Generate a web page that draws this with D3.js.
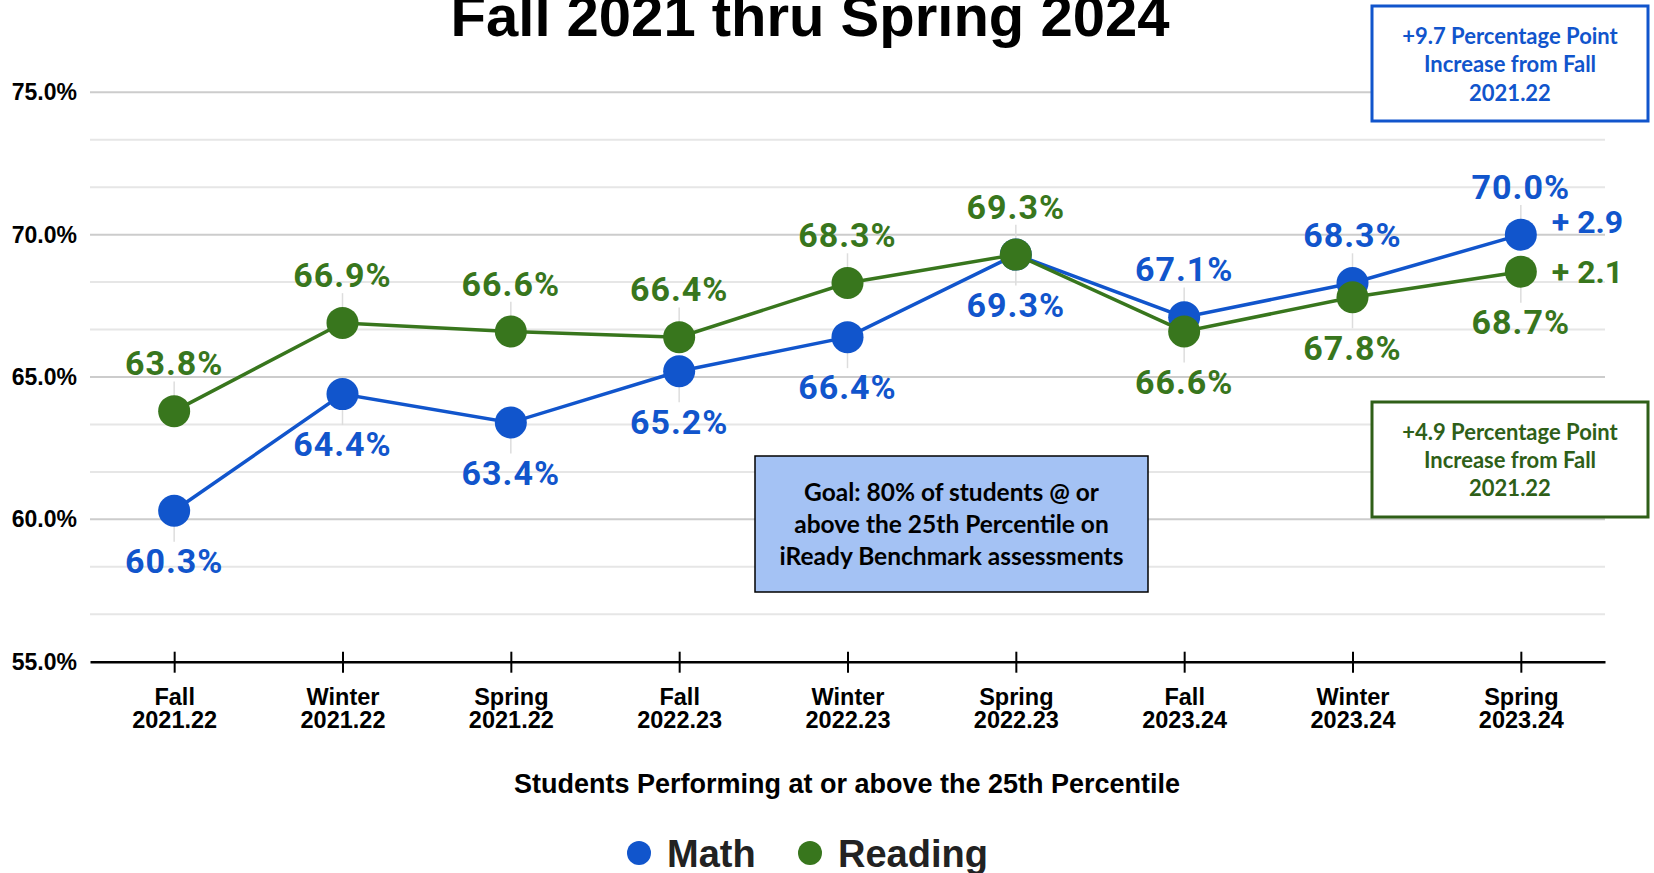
<!DOCTYPE html>
<html>
<head>
<meta charset="utf-8">
<script src="https://cdn.jsdelivr.net/npm/d3@7"></script>
<style>
  body { margin: 0; background: #fff; }
  svg { display: block; }
</style>
</head>
<body>
<div id="chart"></div>
<script>
// Data
const categories = [
  "Fall 2021.22", "Winter 2021.22", "Spring 2021.22",
  "Fall 2022.23", "Winter 2022.23", "Spring 2022.23",
  "Fall 2023.24", "Winter 2023.24", "Spring 2023.24"
];
const mathValues = [60.3, 64.4, 63.4, 65.2, 66.4, 69.3, 67.1, 68.3, 70.0];
const readingValues = [63.8, 66.9, 66.6, 66.4, 68.3, 69.3, 66.6, 67.8, 68.7];
const yTicks = [55, 60, 65, 70, 75];
const mathLabelSide = ["below", "below", "below", "below", "below", "below", "above", "above", "above"];
const readingLabelSide = ["above", "above", "above", "above", "above", "above", "below", "below", "below"];
const gainLabels = ["+ 2.9", "+ 2.1"];
const mathNote = ["+9.7 Percentage Point", "Increase from Fall", "2021.22"];
const readingNote = ["+4.9 Percentage Point", "Increase from Fall", "2021.22"];
const goalNote = ["Goal: 80% of students @ or", "above the 25th Percentile on", "iReady Benchmark assessments"];

// Constants
const WIDTH = 1654;
const HEIGHT = 873;
const MATH_COLOR = "#1155cc";
const READING_COLOR = "#38761d";
const BOLD_SANS = "'Liberation Sans', Arial, sans-serif";
const LABEL_FONT = "Roboto, 'Liberation Sans', sans-serif";
const NOTE_FONT = "Lato, 'Open Sans', sans-serif";

const svg = d3.select("#chart")
  .append("svg")
  .attr("width", WIDTH)
  .attr("height", HEIGHT);

const x = d3.scalePoint().domain(categories).range([90, 1605]).padding(0.5);
const y = d3.scaleLinear().domain([55, 75]).range([661.7, 92.3]);

// Title (first line is cut off at the top)
svg.append("text")
  .attr("x", 810)
  .attr("y", 36)
  .attr("text-anchor", "middle")
  .attr("font-family", BOLD_SANS)
  .attr("font-weight", "bold")
  .attr("font-size", 58)
  .text("Fall 2021 thru Spring 2024");

// Gridlines (major every 5, minor every 5/3)
const gridValues = d3.range(1, 13).map(i => 55 + i * 5 / 3);
svg.append("g")
  .selectAll("line")
  .data(gridValues)
  .enter()
  .append("line")
  .attr("x1", 90)
  .attr("x2", 1605)
  .attr("y1", d => y(d))
  .attr("y2", d => y(d))
  .attr("stroke", d => yTicks.some(t => Math.abs(t - d) < 0.01) ? "#cccccc" : "#e6e6e6")
  .attr("stroke-width", 2);

// Y axis labels
const yAxis = svg.append("g")
  .attr("transform", "translate(90,0)")
  .call(d3.axisLeft(y).tickValues(yTicks).tickSize(0).tickPadding(13).tickFormat(d => d.toFixed(1) + "%"));
yAxis.select(".domain").remove();
yAxis.selectAll("text")
  .attr("font-family", BOLD_SANS)
  .attr("font-weight", "bold")
  .attr("font-size", 23)
  .attr("fill", "#000");

// X axis
const xAxis = svg.append("g")
  .attr("transform", "translate(0," + y(55) + ")")
  .call(d3.axisBottom(x).tickSizeOuter(0).tickSize(0));
xAxis.select(".domain").attr("stroke", "#000").attr("stroke-width", 2.5);
xAxis.selectAll(".tick line")
  .attr("y1", -10)
  .attr("y2", 11)
  .attr("stroke", "#000")
  .attr("stroke-width", 2);
xAxis.selectAll(".tick text").remove();
xAxis.selectAll(".tick")
  .append("text")
  .attr("text-anchor", "middle")
  .attr("font-family", BOLD_SANS)
  .attr("font-weight", "bold")
  .attr("font-size", 23.5)
  .attr("fill", "#000")
  .each(function(d) {
    const parts = d.split(" ");
    const t = d3.select(this);
    t.append("tspan").attr("x", 0).attr("y", 43).text(parts[0]);
    t.append("tspan").attr("x", 0).attr("y", 66).text(parts[1]);
  });

// X axis title
svg.append("text")
  .attr("x", 847)
  .attr("y", 793)
  .attr("text-anchor", "middle")
  .attr("font-family", BOLD_SANS)
  .attr("font-weight", "bold")
  .attr("font-size", 27)
  .attr("fill", "#000")
  .text("Students Performing at or above the 25th Percentile");

// Series
const series = [
  { name: "Math", values: mathValues, sides: mathLabelSide, color: MATH_COLOR, gain: gainLabels[0], gainDy: -13 },
  { name: "Reading", values: readingValues, sides: readingLabelSide, color: READING_COLOR, gain: gainLabels[1], gainDy: 0 }
];

const line = d3.line()
  .x((d, i) => x(categories[i]))
  .y(d => y(d));

function labelOffset(side) {
  return side === "above" ? -48 : 50;
}

// Leader lines
series.forEach(s => {
  svg.append("g")
    .selectAll("line")
    .data(s.values)
    .enter()
    .append("line")
    .attr("x1", (d, i) => x(categories[i]))
    .attr("x2", (d, i) => x(categories[i]))
    .attr("y1", d => y(d))
    .attr("y2", (d, i) => y(d) + labelOffset(s.sides[i]) * 0.62)
    .attr("stroke", "#dddddd")
    .attr("stroke-width", 1.5);
});

series.forEach(s => {
  const g = svg.append("g");
  g.append("path")
    .datum(s.values)
    .attr("d", line)
    .attr("fill", "none")
    .attr("stroke", s.color)
    .attr("stroke-width", 3.5);

  g.selectAll("circle")
    .data(s.values)
    .enter()
    .append("circle")
    .attr("cx", (d, i) => x(categories[i]))
    .attr("cy", d => y(d))
    .attr("r", 16)
    .attr("fill", s.color);
});

// Data labels
series.forEach(s => {
  svg.append("g")
    .selectAll("text")
    .data(s.values)
    .enter()
    .append("text")
    .attr("x", (d, i) => x(categories[i]))
    .attr("y", (d, i) => y(d) + labelOffset(s.sides[i]))
    .attr("dy", "0.36em")
    .attr("text-anchor", "middle")
    .attr("font-family", LABEL_FONT)
    .attr("font-weight", "bold")
    .attr("font-size", 34)
    .attr("letter-spacing", 1)
    .attr("fill", s.color)
    .text(d => d.toFixed(1) + "%");

  const last = s.values.length - 1;
  svg.append("text")
    .attr("x", x(categories[last]) + 31)
    .attr("y", y(s.values[last]) + s.gainDy)
    .attr("dy", "0.36em")
    .attr("font-family", LABEL_FONT)
    .attr("font-weight", "bold")
    .attr("font-size", 32)
    .attr("fill", s.color)
    .text(s.gain);
});

// Note boxes
function noteBox(lines, box, opts) {
  const g = svg.append("g");
  g.append("rect")
    .attr("x", box.x)
    .attr("y", box.y)
    .attr("width", box.w)
    .attr("height", box.h)
    .attr("fill", opts.fill)
    .attr("stroke", opts.stroke)
    .attr("stroke-width", opts.strokeWidth);
  g.selectAll("text")
    .data(lines)
    .enter()
    .append("text")
    .attr("x", box.x + box.w / 2)
    .attr("y", (d, i) => box.firstLine + i * box.lineHeight)
    .attr("dy", "0.36em")
    .attr("text-anchor", "middle")
    .attr("font-family", NOTE_FONT)
    .attr("font-weight", "bold")
    .attr("font-size", opts.fontSize)
    .attr("fill", opts.color)
    .text(d => d);
}

noteBox(mathNote, { x: 1372, y: 6, w: 276, h: 115, firstLine: 36, lineHeight: 28.5 },
  { fill: "#fff", stroke: MATH_COLOR, strokeWidth: 3, color: MATH_COLOR, fontSize: 22 });
noteBox(readingNote, { x: 1372, y: 402, w: 276, h: 115, firstLine: 432, lineHeight: 28 },
  { fill: "#fff", stroke: "#2f5f18", strokeWidth: 3, color: "#2f5f18", fontSize: 22 });
noteBox(goalNote, { x: 755, y: 456, w: 393, h: 136, firstLine: 492, lineHeight: 32 },
  { fill: "#a4c2f4", stroke: "#000", strokeWidth: 1.5, color: "#000", fontSize: 24.5 });

// Legend
const legendItems = [
  { name: "Math", color: MATH_COLOR, cx: 639, tx: 667 },
  { name: "Reading", color: READING_COLOR, cx: 810, tx: 838 }
];
const legend = svg.append("g");
legendItems.forEach(item => {
  legend.append("circle")
    .attr("cx", item.cx)
    .attr("cy", 853)
    .attr("r", 12)
    .attr("fill", item.color);
  legend.append("text")
    .attr("x", item.tx)
    .attr("y", 867)
    .attr("font-family", BOLD_SANS)
    .attr("font-weight", "bold")
    .attr("font-size", 38)
    .attr("fill", "#222")
    .text(item.name);
});
</script>
</body>
</html>
